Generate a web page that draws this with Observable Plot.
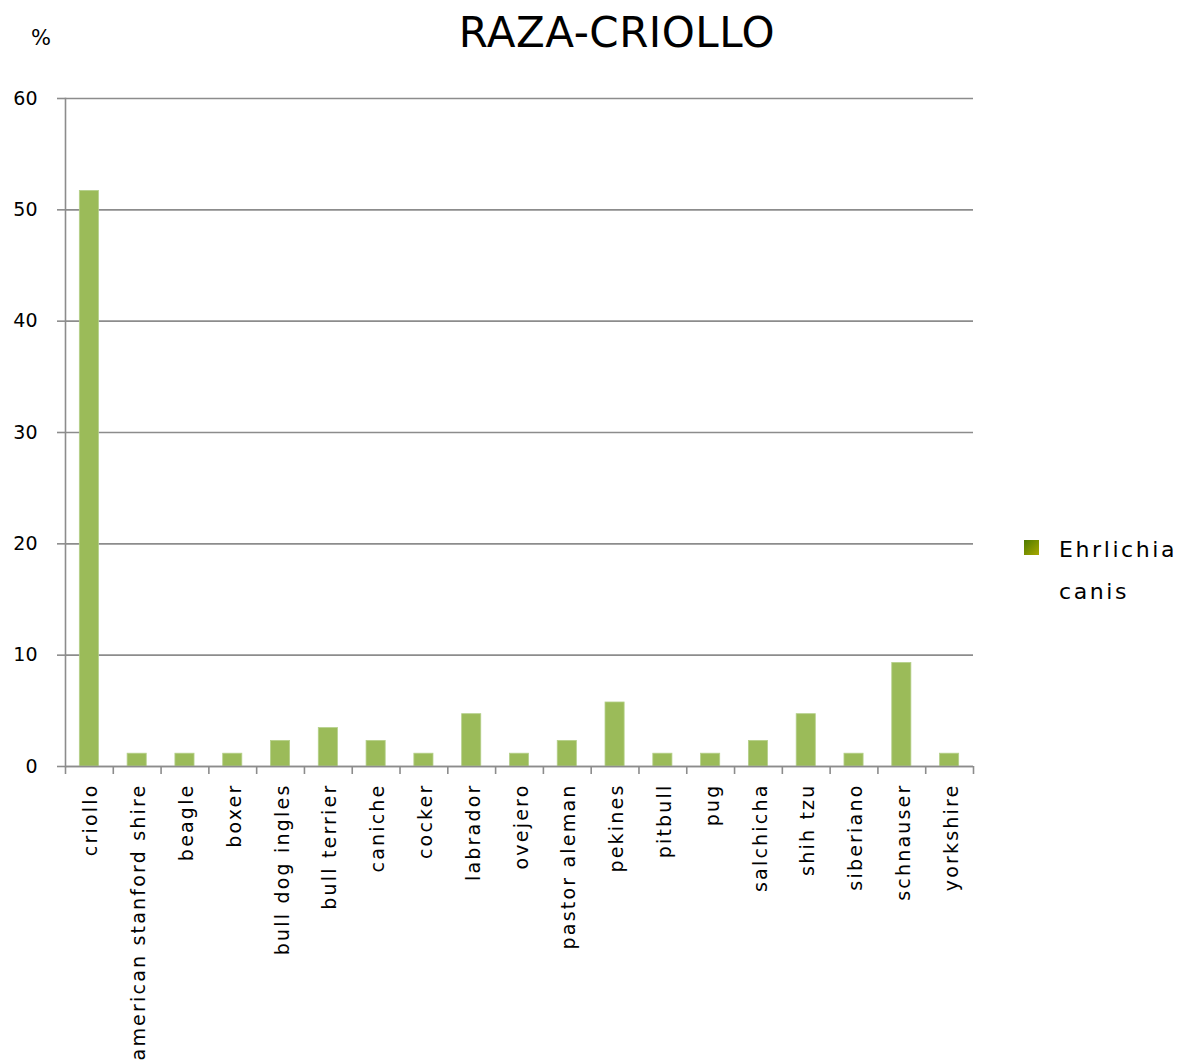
<!DOCTYPE html>
<html>
<head>
<meta charset="utf-8">
<script src="https://cdn.jsdelivr.net/npm/d3@7"></script>
<script src="https://cdn.jsdelivr.net/npm/@observablehq/plot@0.6"></script>
<style>
  html, body { margin: 0; padding: 0; background: #fff; }
  #wrap { position: relative; width: 1183px; height: 1062px; font-family: "DejaVu Sans", sans-serif; color: #000; }
  #title { position: absolute; top: 8px; left: 617px; transform: translateX(-50%); font-size: 42px; letter-spacing: 0.5px; white-space: nowrap; }
  #unit { position: absolute; top: 26px; left: 31px; font-size: 21px; }
  #legend { position: absolute; top: 529px; left: 1022px; font-size: 22px; line-height: 42px; letter-spacing: 2.6px; }
  #legend .sw { position: absolute; left: 2px; top: 11px; width: 15px; height: 15px; background: linear-gradient(135deg, #4d7a00, #a8a800); }
  #legend .lbl { position: absolute; left: 37px; top: 0; white-space: nowrap; }
  .xlab text { letter-spacing: 2.2px; }
</style>
</head>
<body>
<div id="wrap">
  <div id="title"></div>
  <div id="unit"></div>
  <div id="chart"></div>
  <div id="legend"><div class="sw"></div><div class="lbl"></div></div>
</div>
<script>
const titleText = "RAZA-CRIOLLO";
const unitText = "%";
const seriesName = "Ehrlichia canis";
const categories = ["criollo", "american stanford shire", "beagle", "boxer", "bull dog ingles", "bull terrier", "caniche", "cocker", "labrador", "ovejero", "pastor aleman", "pekines", "pitbull", "pug", "salchicha", "shih tzu", "siberiano", "schnauser", "yorkshire"];
const values = [51.7, 1.15, 1.15, 1.15, 2.3, 3.45, 2.3, 1.15, 4.7, 1.15, 2.3, 5.75, 1.15, 1.15, 2.3, 4.7, 1.15, 9.3, 1.15];
const yTicks = [0, 10, 20, 30, 40, 50, 60];

document.getElementById("title").textContent = titleText;
document.getElementById("unit").textContent = unitText;
document.querySelector("#legend .lbl").innerHTML = seriesName.split(" ").join("<br>");

const data = categories.map((c, i) => ({cat: c, val: values[i]}));

const W = 1183, H = 1062;
const mL = 65, mR = 210, mT = 98, mB = 296;
const step = (W - mL - mR) / categories.length;
const gray = "#8c8c8c";

const chart = Plot.plot({
  width: W,
  height: H,
  marginLeft: mL,
  marginRight: mR,
  marginTop: mT,
  marginBottom: mB,
  style: {fontFamily: "DejaVu Sans, sans-serif", fontSize: "19px", color: "#000", background: "#fff"},
  x: {domain: categories, type: "band", paddingInner: 0.6, paddingOuter: 0.3, round: false, label: null},
  y: {domain: [0, 60], label: null},
  marks: [
    Plot.gridY(yTicks, {stroke: gray, strokeOpacity: 1, strokeWidth: 1.6}),
    Plot.axisY({ticks: yTicks, tickSize: 8, tickPadding: 20, stroke: gray, strokeWidth: 1.6, label: null, fontSize: 19}),
    Plot.barY(data, {x: "cat", y: "val", fill: "#9bbb59", stroke: "#b5d08a", strokeWidth: 0.8}),
    Plot.ruleY([0], {stroke: gray, strokeWidth: 1.6}),
    Plot.axisX({tickSize: 8, tickFormat: () => "", dx: -step / 2, stroke: gray, strokeWidth: 1.6, label: null}),
    Plot.axisX({ticks: [categories[categories.length - 1]], tickSize: 8, tickFormat: () => "", dx: step / 2, stroke: gray, strokeWidth: 1.6, label: null}),
    Plot.axisX({tickSize: 0, tickRotate: -90, tickPadding: 17, label: null, fontSize: 19, dx: 2, className: "xlab"}),
    Plot.frame({anchor: "left", stroke: gray, strokeWidth: 1.6})
  ]
});
document.getElementById("chart").appendChild(chart);
</script>
</body>
</html>
